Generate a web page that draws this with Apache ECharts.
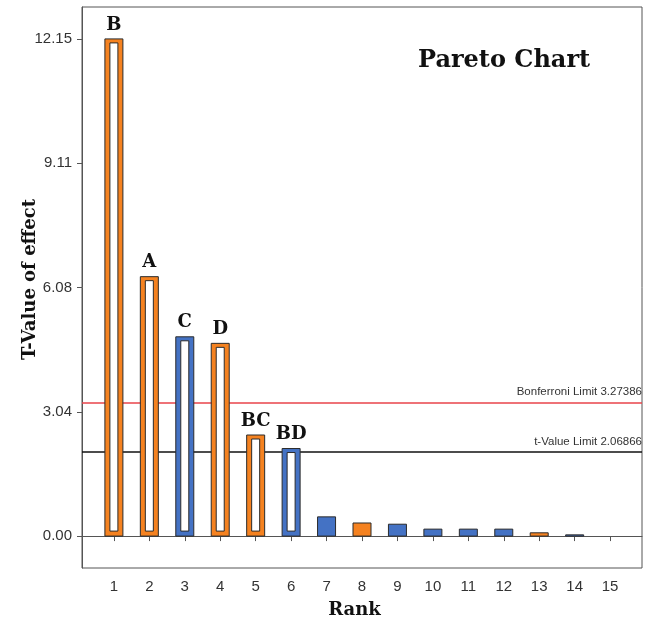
<!DOCTYPE html>
<html>
<head>
<meta charset="utf-8">
<script src="https://cdn.jsdelivr.net/npm/echarts@6/dist/echarts.min.js"></script>
<style>
  html, body { margin: 0; padding: 0; background: #fff; }
  #chart { width: 655px; height: 622px; }
</style>
</head>
<body>
<div id="chart"></div>
<script>
// ---- data ----
const ranks = [1, 2, 3, 4, 5, 6, 7, 8, 9, 10, 11, 12, 13, 14];
const tValues = [12.15, 6.34, 4.87, 4.71, 2.47, 2.14, 0.47, 0.32, 0.29, 0.17, 0.17, 0.17, 0.08, 0.03];
const termLabels = ['B', 'A', 'C', 'D', 'BC', 'BD', '', '', '', '', '', '', '', ''];
const barColorKeys = ['orange', 'orange', 'blue', 'orange', 'orange', 'blue', 'blue', 'orange', 'blue', 'blue', 'blue', 'blue', 'orange', 'blue'];
const hollowBars = [true, true, true, true, true, true, false, false, false, false, false, false, false, false];
const yTickValues = [0, 3.0375, 6.075, 9.1125, 12.15];
const yTickLabels = ['0.00', '3.04', '6.08', '9.11', '12.15'];
const xTickValues = [1, 2, 3, 4, 5, 6, 7, 8, 9, 10, 11, 12, 13, 14, 15];
const bonferroniLimit = 3.27386;
const tValueLimit = 2.06866;

const palette = { orange: '#F58220', blue: '#4472C4' };
const serif = "'DejaVu Serif', 'Liberation Serif', serif";
const sans = "'Liberation Sans', Arial, sans-serif";

function renderBar(params, api) {
  const x = api.value(0);
  const y = api.value(1);
  const idx = params.dataIndex;
  const topPt = api.coord([x, y]);
  const basePt = api.coord([x, 0]);
  const w = 18;
  const left = topPt[0] - w / 2;
  const h = Math.max(basePt[1] - topPt[1], 1);
  const fill = palette[barColorKeys[idx]];
  const children = [{
    type: 'rect',
    shape: { x: left, y: topPt[1], width: w, height: h },
    style: { fill: fill, stroke: '#2b2b2b', lineWidth: 1 }
  }];
  if (hollowBars[idx]) {
    children.push({
      type: 'rect',
      shape: { x: left + 5, y: topPt[1] + 4, width: w - 10, height: h - 9 },
      style: { fill: '#ffffff', stroke: '#2b2b2b', lineWidth: 1 }
    });
  }
  if (termLabels[idx]) {
    children.push({
      type: 'text',
      style: {
        text: termLabels[idx],
        x: topPt[0],
        y: topPt[1] - 5,
        align: 'center',
        verticalAlign: 'bottom',
        fill: '#111',
        font: 'bold 18px ' + serif
      }
    });
  }
  return { type: 'group', children: children };
}

const chart = echarts.init(document.getElementById('chart'), null, { renderer: 'canvas' });
chart.setOption({
  animation: false,
  backgroundColor: '#ffffff',
  title: {
    text: 'Pareto Chart',
    left: 413,
    top: 44,
    textStyle: { fontFamily: serif, fontWeight: 'bold', fontSize: 24, color: '#111' }
  },
  grid: {
    left: 82, top: 7, right: 13, bottom: 54,
    outerBoundsMode: 'none',
    containLabel: false,
    show: true, borderColor: '#555', borderWidth: 1, backgroundColor: '#fff'
  },
  xAxis: {
    type: 'value',
    min: 0.1,
    max: 15.9,
    name: 'Rank',
    nameLocation: 'middle',
    nameGap: 33,
    nameMoveOverlap: false,
    nameTextStyle: { fontFamily: serif, fontWeight: 'bold', fontSize: 18, color: '#111', padding: [0, 15, 0, 0] },
    axisLine: { show: true, lineStyle: { color: '#555' } },
    axisTick: { show: true, length: 5, lineStyle: { color: '#555' }, customValues: xTickValues },
    axisLabel: { customValues: xTickValues, fontFamily: sans, fontSize: 15, color: '#333', margin: 11 },
    splitLine: { show: false }
  },
  yAxis: {
    type: 'value',
    min: -0.78,
    max: 12.93,
    name: 'T-Value of effect',
    nameLocation: 'middle',
    nameGap: 43,
    nameMoveOverlap: false,
    nameTextStyle: { fontFamily: serif, fontWeight: 'bold', fontSize: 18, color: '#111', padding: [0, 0, 0, 16] },
    axisLine: { show: true, lineStyle: { color: '#555' } },
    axisTick: { show: true, length: 5, lineStyle: { color: '#555' }, customValues: yTickValues },
    axisLabel: {
      customValues: yTickValues,
      fontFamily: sans, fontSize: 15, color: '#333', margin: 10,
      formatter: function (v) {
        let best = 0;
        for (let i = 0; i < yTickValues.length; i++) {
          if (Math.abs(yTickValues[i] - v) < Math.abs(yTickValues[best] - v)) best = i;
        }
        return yTickLabels[best];
      }
    },
    splitLine: { show: false }
  },
  series: [{
    type: 'custom',
    renderItem: renderBar,
    data: ranks.map((r, i) => [r, tValues[i]]),
    encode: { x: 0, y: 1 },
    z: 3,
    markLine: {
      silent: true,
      symbol: 'none',
      z: 2,
      data: [
        { yAxis: bonferroniLimit, lineStyle: { color: '#E8434A', width: 1.5, type: 'solid' },
          label: { formatter: 'Bonferroni Limit ' + bonferroniLimit } },
        { yAxis: tValueLimit, lineStyle: { color: '#111', width: 1.5, type: 'solid' },
          label: { formatter: 't-Value Limit ' + tValueLimit } }
      ],
      label: { position: 'insideEndTop', fontFamily: sans, fontSize: 11.5, color: '#333', distance: [0, 4] }
    }
  }]
});
</script>
</body>
</html>
